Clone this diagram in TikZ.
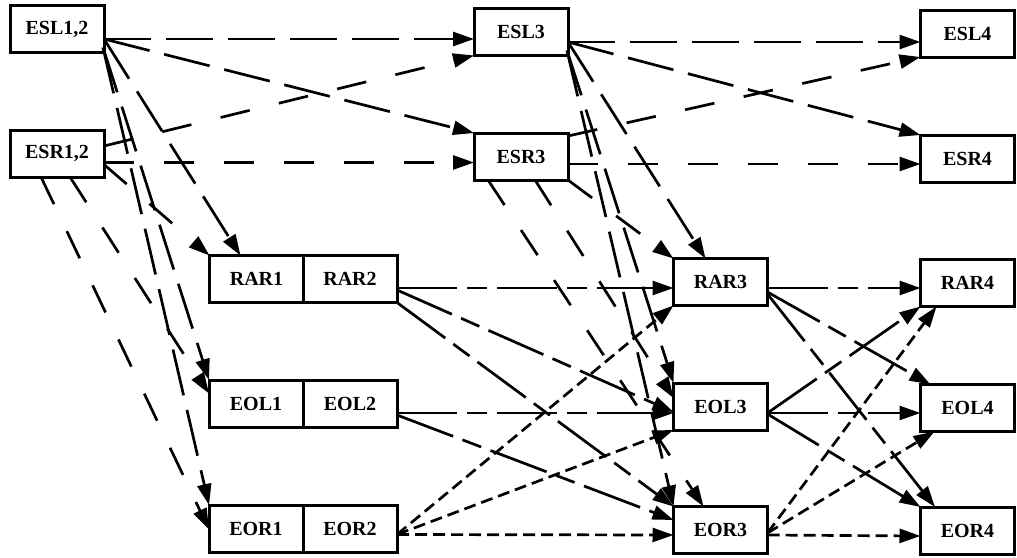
\documentclass[tikz,border=0pt]{standalone}
\usepackage{fontspec}
\setmainfont{Liberation Serif}
\usetikzlibrary{arrows.meta,calc}
\tikzset{
  box/.style={draw, line width=1.5pt, minimum width=47pt, minimum height=23.5pt,
    inner sep=0pt, outer sep=0pt, font=\fontsize{10}{12}\selectfont\bfseries},
  edge/.style={line width=1.35pt, -{Triangle[length=10.5pt,width=7pt]}},
  lfam/.style={edge, dash pattern=on 23.5pt off 7.5pt},
  rfam/.style={edge, dash pattern=on 15pt off 15pt},
  mfam/.style={edge, dash pattern=on 30pt off 5pt on 10pt off 5pt},
  sfam/.style={edge, dash pattern=on 6pt off 3pt}
}
\begin{document}
\begin{tikzpicture}[x=0.5pt, y=-0.5pt]
\useasboundingbox (0,0) rectangle (1017,557);
% nodes
\node[box] (ESL12) at (57,29) {ESL1,2};
\node[box] (ESR12) at (57,153.5) {ESR1,2};
\node[box] (ESL3) at (521,32) {ESL3};
\node[box] (ESR3) at (521,156.5) {ESR3};
\node[box] (ESL4) at (967.5,33.5) {ESL4};
\node[box] (ESR4) at (967.5,158.5) {ESR4};
\node[box] (RAR1) at (256.5,279) {RAR1};
\node[box] (RAR2) at (350,279) {RAR2};
\node[box] (EOL1) at (256,403.5) {EOL1};
\node[box] (EOL2) at (350,403.5) {EOL2};
\node[box] (EOR1) at (256,528.5) {EOR1};
\node[box] (EOR2) at (350,528.5) {EOR2};
\node[box] (RAR3) at (720.5,282) {RAR3};
\node[box] (RAR4) at (967.5,283) {RAR4};
\node[box] (EOL3) at (720.5,406.5) {EOL3};
\node[box] (EOL4) at (967.5,408) {EOL4};
\node[box] (EOR3) at (720.5,530) {EOR3};
\node[box] (EOR4) at (967.5,530.5) {EOR4};
% ESL1,2
\draw[lfam] ($(ESL12.east)+(0,10)$) -- ($(ESL3.west)+(0,7)$);
\draw[lfam] ($(ESL12.east)+(0,10)$) -- (ESR3.north west);
\draw[lfam] ($(ESL12.east)+(0,10)$) -- ($(RAR1.north)+(-16,0)$);
\draw[lfam] ($(ESL12.south east)+(-1,-5)$) -- (EOL1.north west);
\draw[lfam] ($(ESL12.south east)+(-1,-5)$) -- (EOR1.north west);
% ESR1,2
\draw[rfam] ($(ESR12.east)+(0,-7.5)$) -- (ESL3.south west);
\draw[rfam] ($(ESR12.east)+(0,9)$) -- ($(ESR3.west)+(0,6)$);
\draw[rfam] ($(ESR12.east)+(0,11)$) -- (RAR1.north west);
\draw[rfam] ($(ESR12.south)+(-16,0)$) -- ($(EOR1.west)+(0,1)$);
\draw[rfam] ($(ESR12.south)+(13,0)$) -- ($(EOL1.west)+(0,-10)$);
% ESL3
\draw[lfam] ($(ESL3.east)+(0,10)$) -- ($(ESL4.west)+(0,8.5)$);
\draw[lfam] ($(ESL3.east)+(0,10)$) -- (ESR4.north west);
\draw[lfam] ($(ESL3.east)+(0,10)$) -- ($(RAR3.north)+(-15,0)$);
\draw[lfam] ($(ESL3.south east)+(-1,-5)$) -- (EOL3.north west);
\draw[lfam] ($(ESL3.south east)+(-1,-5)$) -- (EOR3.north west);
% ESR3
\draw[rfam] ($(ESR3.north east)+(0,3)$) -- (ESL4.south west);
\draw[rfam] ($(ESR3.east)+(0,7.5)$) -- ($(ESR4.west)+(0,5.5)$);
\draw[rfam] (ESR3.south east) -- (RAR3.north west);
\draw[rfam] ($(ESR3.south)+(-33,0)$) -- ($(EOR3.north)+(-17,0)$);
\draw[rfam] ($(ESR3.south)+(14,0)$) -- ($(EOL3.west)+(0,-8.5)$);
% RAR2, EOL2
\draw[mfam] ($(RAR2.east)+(0,9)$) -- ($(RAR3.west)+(0,6)$);
\draw[mfam] ($(RAR2.east)+(0,11)$) -- ($(EOL3.west)+(0,5.5)$);
\draw[mfam] (RAR2.south east) -- (EOR3.north west);
\draw[mfam] ($(EOL2.east)+(0,9.5)$) -- ($(EOL3.west)+(0,6.5)$);
\draw[mfam] ($(EOL2.east)+(0,11.5)$) -- ($(EOR3.west)+(0,-10)$);
% EOR2
\draw[sfam] ($(EOR2.east)+(0,6)$) -- ($(EOR3.west)+(0,5)$);
\draw[sfam] ($(EOR2.east)+(0,6)$) -- (EOL3.south west);
\draw[sfam] ($(EOR2.east)+(0,6)$) -- (RAR3.south west);
% RAR3, EOL3
\draw[mfam] ($(RAR3.east)+(0,6)$) -- ($(RAR4.west)+(0,5)$);
\draw[mfam] ($(RAR3.east)+(0,10)$) -- ($(EOL4.north west)+(10,0)$);
\draw[mfam] ($(RAR3.east)+(0,12)$) -- ($(EOR4.north)+(-32.5,0)$);
\draw[mfam] ($(EOL3.east)+(0,6.5)$) -- ($(EOL4.west)+(0,5)$);
\draw[mfam] ($(EOL3.east)+(0,6.5)$) -- (RAR4.south west);
\draw[mfam] ($(EOL3.east)+(0,7.5)$) -- (EOR4.north west);
% EOR3
\draw[sfam] ($(EOR3.east)+(0,5)$) -- ($(EOR4.west)+(0,5.5)$);
\draw[sfam] ($(EOR3.east)+(0,3)$) -- ($(EOL4.south)+(-33,0)$);
\draw[sfam] ($(EOR3.east)+(0,3)$) -- ($(RAR4.south)+(-31,0)$);
\end{tikzpicture}
\end{document}
